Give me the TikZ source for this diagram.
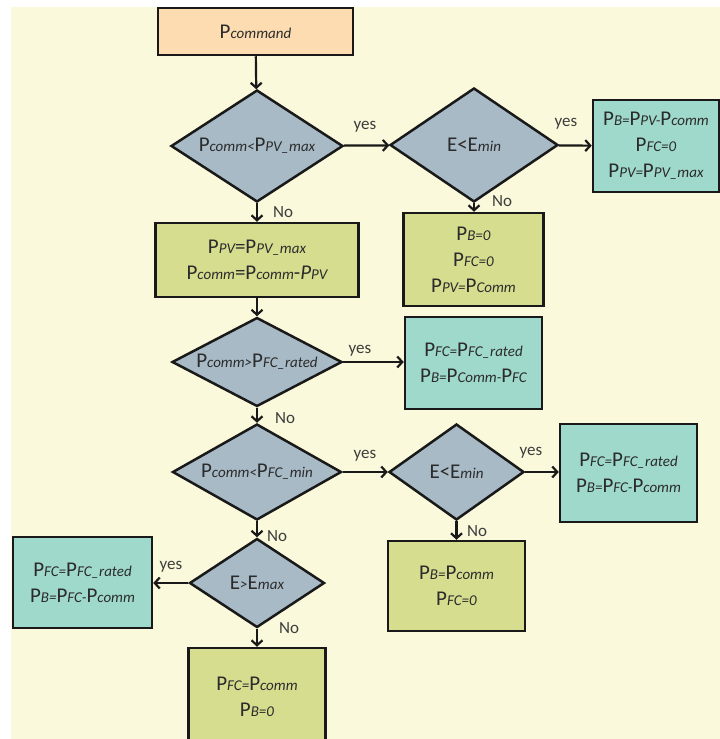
\documentclass[tikz,border=0pt]{standalone}
\usepackage{fontspec}
\setmainfont{Carlito}
\usetikzlibrary{shapes.geometric,arrows.meta}
\definecolor{bgc}{HTML}{FBF9DB}
\definecolor{cmdc}{HTML}{FCDCB0}
\definecolor{diac}{HTML}{A7BAC6}
\definecolor{tealc}{HTML}{9FD9CB}
\definecolor{olivec}{HTML}{D6DD8F}
\definecolor{txtc}{HTML}{2B2B2B}
\definecolor{lblc}{HTML}{3C3C3C}
\newcommand{\sbx}[1]{{\fontsize{15}{15}\selectfont\itshape #1}}
\tikzset{
  basebox/.style={draw=black!90, line width=2.5pt, align=center, inner sep=0pt,
    font=\fontsize{21}{26}\selectfont, text=txtc},
  cmdbox/.style={basebox, fill=cmdc},
  tealbox/.style={basebox, fill=tealc},
  olivebox/.style={basebox, fill=olivec},
  dia/.style={diamond, draw=black!90, line width=2.5pt, fill=diac, inner sep=0pt,
    font=\fontsize{21}{26}\selectfont, text=txtc},
  arr/.style={draw=black!90, line width=2.2pt, -{Straight Barb[length=5pt,width=11pt]}},
  lab/.style={font=\fontsize{17}{17}\selectfont, text=lblc, inner sep=0pt}
}
\begin{document}
\begin{tikzpicture}[x=1pt,y=-1pt]
\useasboundingbox (0,0) rectangle (720,739);
\clip (0,0) rectangle (720,739);
\fill[bgc] (11,7) rectangle (720,739);

% nodes
\node[cmdbox, minimum width=195pt, minimum height=47pt] (C) at (255.5,31.5) {P\sbx{command}};

\node[dia, aspect=1.54, minimum width=172pt, minimum height=112pt] (D1) at (257,146)
  {P\sbx{comm<}P\sbx{PV\_max}};
\node[dia, aspect=1.47, minimum width=168pt, minimum height=114pt] (D2) at (474,145)
  {E<E\sbx{min}};
\node[tealbox, minimum width=126pt, minimum height=92pt] (B1) at (656,146)
  {P\sbx{B=}P\sbx{PV-}P\sbx{comm}\\P\sbx{FC=0}\\P\sbx{PV=}P\sbx{PV\_max}};
\node[olivebox, minimum width=140pt, minimum height=93pt] (B2) at (473.5,259.5)
  {P\sbx{B=0}\\P\sbx{FC=0}\\P\sbx{PV=}P\sbx{Comm}};
\node[olivebox, minimum width=203pt, minimum height=74pt] (B3) at (257,260)
  {P\sbx{PV}=P\sbx{PV\_max}\\P\sbx{comm}=P\sbx{comm}-\textit{P}\sbx{PV}};

\node[dia, aspect=1.9, minimum width=170pt, minimum height=89pt] (D3) at (257,362)
  {P\sbx{comm>}P\sbx{FC\_rated}};
\node[tealbox, minimum width=137pt, minimum height=92pt] (B4) at (473.5,363)
  {P\sbx{FC=}P\sbx{FC\_rated}\\P\sbx{B=}P\sbx{Comm-}P\sbx{FC}};

\node[dia, aspect=1.76, minimum width=169pt, minimum height=96pt] (D4) at (257,472)
  {P\sbx{comm<}P\sbx{FC\_min}};
\node[dia, aspect=1.4, minimum width=135pt, minimum height=96pt] (D5) at (456.5,472)
  {E<E\sbx{min}};
\node[tealbox, minimum width=137pt, minimum height=98pt] (B5) at (628.5,473)
  {P\sbx{FC=}P\sbx{FC\_rated}\\P\sbx{B=}P\sbx{FC-}P\sbx{comm}};
\node[olivebox, minimum width=137pt, minimum height=90pt] (B6) at (456.5,586)
  {P\sbx{B=}P\sbx{comm}\\P\sbx{FC=0}};

\node[dia, aspect=1.5, minimum width=135pt, minimum height=89pt] (D6) at (257,583)
  {E\sbx{>}E\sbx{max}};
\node[tealbox, minimum width=139pt, minimum height=91pt] (B7) at (82.5,582.5)
  {P\sbx{FC=}P\sbx{FC\_rated}\\P\sbx{B=}P\sbx{FC-}P\sbx{comm}};
\node[olivebox, minimum width=137pt, minimum height=97pt] (B8) at (257,696.5)
  {P\sbx{FC=}P\sbx{comm}\\P\sbx{B=0}};

% connectors
\draw[arr] (C) -- (D1);
\draw[arr] (D1) -- (D2);
\draw[arr] (D2) -- (B1);
\draw[arr] (D2) -- (D2 |- B2.north);
\draw[arr] (D1) -- (B3);
\draw[arr] (B3) -- (D3);
\draw[arr] (D3) -- (D3 -| B4.west);
\draw[arr] (D3) -- (D4);
\draw[arr] (D4) -- (D5);
\draw[arr] (D5) -- (D5 -| B5.west);
\draw[arr] (D5) -- (B6);
\draw[arr] (D4) -- (D6);
\draw[arr] (D6) -- (D6 -| B7.east);
\draw[arr] (D6) -- (B8);

% labels
\node[lab] (ly1) at (365,127) {yes};
\node[lab] (ly2) at (566,124) {yes};
\node[lab] (ln2) at (502,201) {No};
\node[lab] (ln1) at (283,212) {No};
\node[lab] (ly3) at (360,351) {yes};
\node[lab] (ln3) at (285,418) {No};
\node[lab] (ly4) at (365,456) {yes};
\node[lab] (ly5) at (531,453) {yes};
\node[lab] (ln4) at (277,536) {No};
\node[lab] (ln5) at (477,531) {No};
\node[lab] (ly6) at (171,567) {yes};
\node[lab] (ln6) at (289,628) {No};
\end{tikzpicture}
\end{document}
